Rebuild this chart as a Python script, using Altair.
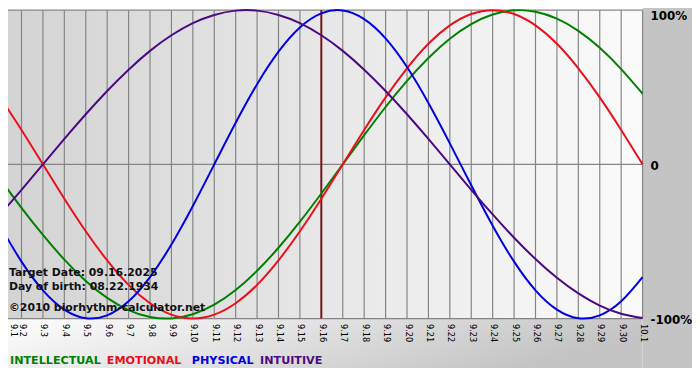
import altair as alt
import pandas as pd

# ---------------- data ----------------
DATES = ["9.1", "9.2", "9.3", "9.4", "9.5", "9.6", "9.7", "9.8", "9.9", "9.10",
         "9.11", "9.12", "9.13", "9.14", "9.15", "9.16", "9.17", "9.18", "9.19", "9.20",
         "9.21", "9.22", "9.23", "9.24", "9.25", "9.26", "9.27", "9.28", "9.29", "9.30", "10.1"]

INTELLECTUAL = [-0.095, -0.282, -0.458, -0.618, -0.756, -0.866, -0.945, -0.990, -0.999, -0.972,
                -0.910, -0.815, -0.690, -0.541, -0.372, -0.189, 0.000, 0.189, 0.372, 0.541,
                0.690, 0.815, 0.910, 0.972, 0.999, 0.990, 0.945, 0.866, 0.756, 0.618, 0.458]
EMOTIONAL = [0.434, 0.223, 0.000, -0.223, -0.434, -0.623, -0.782, -0.901, -0.975, -1.000,
             -0.975, -0.901, -0.782, -0.623, -0.434, -0.223, 0.000, 0.223, 0.434, 0.623,
             0.782, 0.901, 0.975, 1.000, 0.975, 0.901, 0.782, 0.623, 0.434, 0.223, 0.000]
PHYSICAL = [-0.398, -0.631, -0.817, -0.942, -0.998, -0.979, -0.888, -0.731, -0.520, -0.270,
            0.000, 0.270, 0.520, 0.731, 0.888, 0.979, 0.998, 0.942, 0.817, 0.631,
            0.398, 0.136, -0.136, -0.398, -0.631, -0.817, -0.942, -0.998, -0.979, -0.888, -0.731]
INTUITIVE = [-0.325, -0.165, 0.000, 0.165, 0.325, 0.476, 0.614, 0.736, 0.837, 0.916,
             0.969, 0.997, 0.997, 0.969, 0.916, 0.837, 0.736, 0.614, 0.476, 0.325,
             0.165, 0.000, -0.165, -0.325, -0.476, -0.614, -0.736, -0.837, -0.916, -0.969, -0.997]

SERIES = ["INTELLECTUAL", "EMOTIONAL", "PHYSICAL", "INTUITIVE"]
Y_GRID = [1, 0, -1]
Y_LABELS = ["100%", "0", "-100%"]
TARGET_DATE = "9.16"
INFO_LINES = ["Target Date: 09.16.2025", "Day of birth: 08.22.1934",
              "\u00a92010 biorhythm-calculator.net"]

# ---------------- styles / layout ----------------
COLORS = ["#008000", "#e8101a", "#0000e0", "#4b0a80"]
W, H = 650, 312
FONT = "DejaVu Sans"

idx = list(range(len(DATES)))
rows = []
for name, vals in zip(SERIES, [INTELLECTUAL, EMOTIONAL, PHYSICAL, INTUITIVE]):
    for i, v in zip(idx, vals):
        rows.append({"i": i, "series": name, "value": v})
lines_df = pd.DataFrame(rows)
dates_df = pd.DataFrame({"i": idx, "date": DATES})
one = pd.DataFrame({"a": [0]})

label_expr = "[" + ",".join("'%s'" % d for d in DATES) + "][datum.value]"
x_scale = alt.Scale(domain=[0, len(DATES) - 1], nice=False, zero=False)
y_scale = alt.Scale(domain=[-1, 1], nice=False, zero=False)
x_axis = alt.Axis(values=idx, labelExpr=label_expr, labelAngle=90, labelFont=FONT,
                  labelFontSize=8.3, labelColor="#000000", labelPadding=5, ticks=False,
                  domain=False, grid=False, title=None, labelOverlap=False,
                  labelBound=False, labelFlush=False, zindex=1,
                  labelOffset={"condition": {"test": "datum.value == 0", "value": 13},
                               "value": 0})
X = alt.X("i:Q", scale=x_scale, axis=x_axis)


def grad(c0, c1, x2=1, y2=0):
    return alt.LinearGradient(gradient="linear",
                              stops=[alt.GradientStop(color=c0, offset=0),
                                     alt.GradientStop(color=c1, offset=1)],
                              x1=0, y1=0, x2=x2, y2=y2)


bg_plot = alt.Chart(one).mark_rect(fill=grad("#d3d3d3", "#fbfbfb")).encode(
    x=alt.value(0), x2=alt.value(W), y=alt.value(0), y2=alt.value(H))
bg_right = alt.Chart(one).mark_rect(fill="#c4c4c4").encode(
    x=alt.value(W), x2=alt.value(W + 60), y=alt.value(-10), y2=alt.value(362))
bg_bottom = alt.Chart(one).mark_rect(fill=grad("#ffffff", "#c4c4c4", 1, 0.25)).encode(
    x=alt.value(-10), x2=alt.value(W), y=alt.value(H), y2=alt.value(362))

vgrid = alt.Chart(dates_df).mark_rule(color="#858585", strokeWidth=1.2).encode(x=X)
hgrid = alt.Chart(pd.DataFrame({"v": Y_GRID})).mark_rule(color="#858585", strokeWidth=1.2).encode(
    y=alt.Y("v:Q", scale=y_scale, axis=None))

target = alt.Chart(pd.DataFrame({"i": [DATES.index(TARGET_DATE)]})).mark_rule(
    color="#7a1616", strokeWidth=2).encode(x=X)

lines = alt.Chart(lines_df).mark_line(strokeWidth=2, interpolate="natural").encode(
    x=X,
    y=alt.Y("value:Q", scale=y_scale, axis=None),
    color=alt.Color("series:N", scale=alt.Scale(domain=SERIES, range=COLORS), legend=None),
)

ylab_df = pd.DataFrame({"v": Y_GRID, "label": Y_LABELS})
ylab_top = alt.Chart(ylab_df).transform_filter("datum.v == 1").mark_text(
    align="left", baseline="top", font=FONT, fontWeight="bold", fontSize=12, color="#000000",
    dy=1).encode(x=alt.value(658), y=alt.Y("v:Q", scale=y_scale, axis=None), text="label:N")
ylab_mid = alt.Chart(ylab_df).transform_filter("datum.v != 1").mark_text(
    align="left", baseline="middle", font=FONT, fontWeight="bold", fontSize=12, color="#000000",
    dy=2).encode(x=alt.value(658), y=alt.Y("v:Q", scale=y_scale, axis=None), text="label:N")

info_y = [269, 283, 304]
info_layers = [
    alt.Chart(pd.DataFrame({"t": [txt]})).mark_text(
        align="left", baseline="alphabetic", font=FONT, fontWeight="bold", fontSize=11,
        color="#111111").encode(x=alt.value(9), y=alt.value(yy), text="t:N")
    for txt, yy in zip(INFO_LINES, info_y)
]

legend_x = [10, 108, 194, 263]
legend_layers = [
    alt.Chart(pd.DataFrame({"t": [name]})).mark_text(
        align="left", baseline="alphabetic", font=FONT, fontWeight="bold", fontSize=11.3,
        color=col).encode(x=alt.value(lx), y=alt.value(358), text="t:N")
    for name, col, lx in zip(SERIES, COLORS, legend_x)
]

chart = alt.layer(
    bg_plot, bg_right, bg_bottom, vgrid, hgrid, target, lines, ylab_top, ylab_mid,
    *info_layers, *legend_layers
).properties(
    width=W, height=H,
    autosize=alt.AutoSizeParams(type="none"),
    padding={"left": -8, "top": 0, "right": 50, "bottom": 60},
    background="white",
).configure_view(stroke=None)

chart.save("out.html", embed_options={"renderer": "svg", "actions": False})
